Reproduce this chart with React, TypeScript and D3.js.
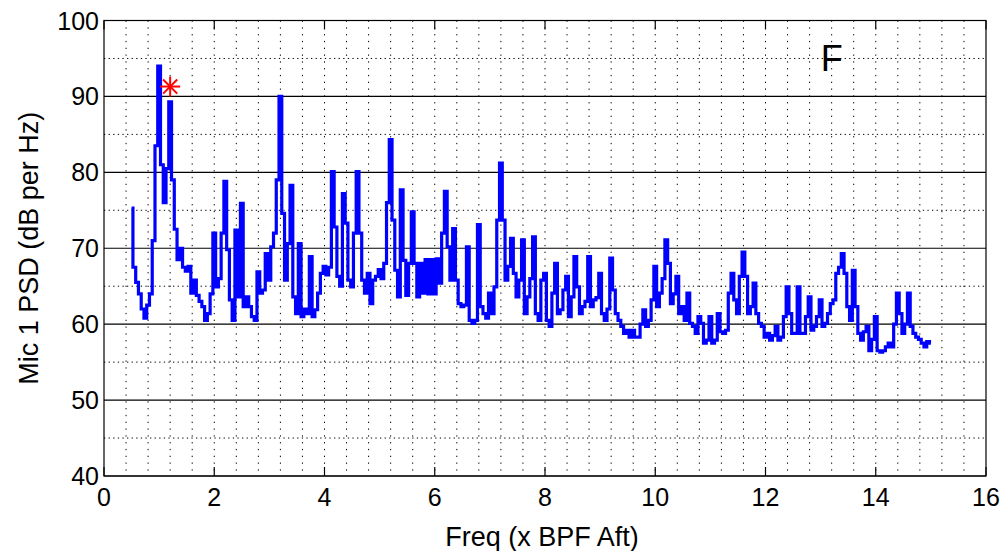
import React from "react";
import * as d3 from "d3";

// ---- data ----
const freqStart = 0.5; // x BPF Aft, first bin
const freqStep = 0.05; // bin width
const psd: number[] = [
  75.3, 67.5, 65.5, 64.0, 62.0, 60.8, 62.5, 64.0, 71.0, 83.5,
  94.0, 81.0, 76.0, 80.5, 89.3, 79.0, 72.5, 68.5, 70.0, 67.5,
  67.0, 67.6, 64.1, 65.8, 63.8, 63.0, 62.3, 60.5, 61.4, 64.0,
  72.0, 64.9, 66.0, 72.0, 78.8, 69.8, 63.2, 60.5, 72.4, 63.6,
  75.9, 62.3, 63.6, 62.3, 61.0, 60.5, 66.9, 64.1, 64.5, 69.3,
  65.8, 70.2, 72.0, 79.0, 90.0, 74.6, 65.8, 70.6, 78.3, 63.6,
  61.4, 70.6, 61.0, 62.0, 61.4, 68.9, 61.0, 61.9, 64.1, 66.7,
  67.6, 66.5, 67.5, 80.1, 72.8, 66.3, 65.0, 77.2, 73.3, 65.8,
  64.9, 72.0, 80.1, 72.0, 65.8, 64.1, 66.7, 62.7, 65.8, 66.3,
  67.2, 66.0, 68.0, 76.0, 84.3, 73.7, 67.1, 63.6, 77.7, 68.4,
  63.8, 68.0, 74.8, 68.0, 63.6, 68.0, 64.1, 68.5, 64.0, 68.5,
  64.0, 68.6, 65.4, 72.0, 77.5, 70.2, 65.8, 72.6, 65.8, 62.7,
  62.3, 62.5, 70.2, 60.5, 60.1, 60.5, 73.1, 62.3, 61.4, 60.8,
  64.1, 61.4, 64.9, 73.7, 81.2, 73.7, 65.8, 67.6, 71.3, 66.7,
  63.6, 65.8, 71.1, 61.4, 63.6, 66.0, 71.5, 61.4, 60.5, 65.8,
  66.7, 60.5, 59.7, 64.1, 68.0, 61.4, 61.9, 64.5, 66.3, 61.0,
  63.6, 68.9, 64.9, 61.4, 62.3, 63.0, 68.9, 62.3, 63.2, 63.5,
  66.7, 61.4, 60.5, 62.0, 68.7, 64.5, 61.4, 60.5, 59.7, 58.8,
  59.2, 58.3, 59.2, 58.3, 58.3, 60.0, 61.9, 59.7, 60.5, 63.2,
  67.6, 62.3, 64.1, 66.0, 71.1, 68.0, 62.7, 64.0, 66.3, 61.4,
  62.3, 60.5, 64.1, 60.1, 59.7, 58.8, 61.0, 60.1, 57.5, 57.9,
  61.0, 57.5, 57.9, 61.4, 59.0, 58.8, 59.2, 64.1, 66.7, 63.2,
  61.4, 66.3, 69.5, 66.3, 61.4, 62.3, 65.4, 61.4, 60.1, 59.7,
  58.3, 58.8, 57.9, 58.5, 59.7, 57.9, 58.3, 61.0, 64.9, 61.4,
  58.8, 58.8, 64.9, 58.8, 58.8, 61.0, 63.6, 59.2, 59.7, 61.0,
  63.2, 59.7, 60.1, 61.4, 62.7, 63.2, 66.7, 67.5, 69.3, 66.7,
  62.3, 60.5, 67.1, 62.3, 58.8, 57.9, 59.0, 59.7, 56.5, 58.0,
  61.0, 56.5, 56.3, 56.5, 57.0, 57.5, 57.0, 60.0, 64.1, 61.4,
  58.8, 60.0, 64.1, 59.7, 58.8, 58.3, 58.0, 57.5, 57.0, 57.7,
  57.5,
];
const markerFreq = [1.2];
const markerPsd = [91.3];
const xTicks = [0, 2, 4, 6, 8, 10, 12, 14, 16];
const yTicks = [40, 50, 60, 70, 80, 90, 100];
const yMinorGrid = [45, 55, 65, 75, 85, 95];
const xMinorGrid = d3.range(1, 40).map((i) => +(i * 0.4).toFixed(1));
const panelLabel = "F";
const panelLabelAt = [13.0, 93.4];
const xLabel = "Freq (x BPF Aft)";
const yLabel = "Mic 1 PSD (dB per Hz)";

const W = 1005;
const H = 551;
const L = 104;
const R = 986;
const T = 20.5;
const B = 476;
const FONT = "'Liberation Sans', Arial, Helvetica, sans-serif";

export default function App() {
  const x = d3.scaleLinear().domain([0, 16]).range([L, R]);
  const y = d3.scaleLinear().domain([40, 100]).range([B, T]);
  const pts: [number, number][] = psd.map((v, i) => [freqStart + i * freqStep, v]);
  const line = d3
    .line<[number, number]>()
    .x((d) => x(d[0]))
    .y((d) => y(d[1]))
    .curve(d3.curveStep);

  const tickLen = 9;
  return (
    <svg
      width={W}
      height={H}
      style={{ position: "absolute", left: 0, top: 0, display: "block", background: "#fff" }}
      fontFamily={FONT}
    >
      <rect x={0} y={0} width={W} height={H} fill="#fff" />
      {/* dotted vertical grid */}
      {xMinorGrid.map((g) => (
        <line
          key={"vx" + g}
          x1={x(g)}
          x2={x(g)}
          y1={T}
          y2={B}
          stroke="#000"
          strokeWidth={1}
          strokeDasharray="1.3,5.5"
        />
      ))}
      {/* dotted horizontal grid */}
      {yMinorGrid.map((g) => (
        <line
          key={"hy" + g}
          x1={L}
          x2={R}
          y1={y(g)}
          y2={y(g)}
          stroke="#000"
          strokeWidth={1}
          strokeDasharray="1.3,3.3"
        />
      ))}
      {/* solid horizontal major grid */}
      {yTicks.map((t) => (
        <line key={"gy" + t} x1={L} x2={R} y1={y(t)} y2={y(t)} stroke="#000" strokeWidth={1.2} />
      ))}
      {/* x ticks */}
      {xTicks.map((t) => (
        <g key={"xt" + t}>
          <line x1={x(t)} x2={x(t)} y1={B} y2={B - tickLen} stroke="#000" strokeWidth={1.2} />
          <line x1={x(t)} x2={x(t)} y1={T} y2={T + tickLen} stroke="#000" strokeWidth={1.2} />
          <text x={x(t)} y={506} textAnchor="middle" fontSize={25} fill="#000">
            {t}
          </text>
        </g>
      ))}
      {yTicks.map((t) => (
        <text key={"yl" + t} x={99} y={y(t) + 9} textAnchor="end" fontSize={25} fill="#000">
          {t}
        </text>
      ))}
      {/* frame */}
      <rect x={L} y={T} width={R - L} height={B - T} fill="none" stroke="#000" strokeWidth={1.2} />
      {/* data line */}
      <path d={line(pts) || ""} fill="none" stroke="#0000ff" strokeWidth={3.2} strokeLinejoin="miter" />
      {/* red star marker */}
      {markerFreq.map((f, i) => {
        const cx = x(f);
        const cy = y(markerPsd[i]);
        const r = 10;
        return (
          <g key={"m" + i} stroke="#ff0000" strokeWidth={2}>
            {[0, 45, 90, 135].map((a) => {
              const rad = (a * Math.PI) / 180;
              return (
                <line
                  key={a}
                  x1={cx - r * Math.cos(rad)}
                  y1={cy - r * Math.sin(rad)}
                  x2={cx + r * Math.cos(rad)}
                  y2={cy + r * Math.sin(rad)}
                />
              );
            })}
          </g>
        );
      })}
      {/* panel label */}
      <text x={x(panelLabelAt[0])} y={y(panelLabelAt[1])} fontSize={36} fill="#000">
        {panelLabel}
      </text>
      {/* axis labels */}
      <text x={(L + R) / 2 - 3} y={546} textAnchor="middle" fontSize={27} fill="#000">
        {xLabel}
      </text>
      <text
        transform={`translate(38,${(T + B) / 2}) rotate(-90)`}
        textAnchor="middle"
        fontSize={27}
        fill="#000"
      >
        {yLabel}
      </text>
    </svg>
  );
}
